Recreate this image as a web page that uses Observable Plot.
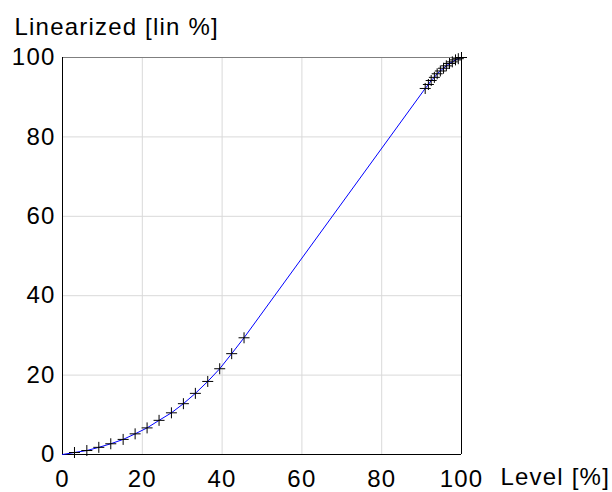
<!DOCTYPE html>
<html>
<head>
<meta charset="utf-8">
<script src="https://cdn.jsdelivr.net/npm/d3@7"></script>
<script src="https://cdn.jsdelivr.net/npm/@observablehq/plot@0.6"></script>
<style>
  html, body { margin: 0; padding: 0; background: #fff; }
</style>
</head>
<body>
<div id="chart"></div>
<script>
// Input level [%] and linearized output [lin %]
const levels = [0, 3.0, 6.1, 9.1, 12.1, 15.2, 18.2, 21.2, 24.2, 27.3, 30.3, 33.3, 36.4, 39.4, 42.4, 45.5,
  90.9, 91.7, 92.4, 93.2, 93.9, 94.7, 95.5, 96.2, 97.0, 97.7, 98.5, 99.2, 100];
const linearized = [0, 0.5, 1.0, 1.8, 2.7, 3.8, 5.2, 6.7, 8.6, 10.5, 12.8, 15.4, 18.4, 21.6, 25.4, 29.4,
  92.2, 93.2, 94.2, 95.0, 95.9, 96.6, 97.3, 97.9, 98.5, 98.9, 99.4, 99.7, 100];
const xTicks = [0, 20, 40, 60, 80, 100];
const yTicks = [0, 20, 40, 60, 80, 100];
const gridTicks = [20, 40, 60, 80];
const yTitle = "Linearized [lin %]";
const xTitle = "Level [%]";

const data = levels.map((x, i) => ({x, y: linearized[i], i}));
const markers = data.filter(d => d.i > 0);

const plusSymbol = {
  draw(context, size) {
    const r = Math.sqrt(size / Math.PI);
    context.moveTo(-r, 0); context.lineTo(r, 0);
    context.moveTo(0, -r); context.lineTo(0, r);
  }
};

const chart = Plot.plot({
  width: 612,
  height: 492,
  marginLeft: 62,
  marginRight: 151,
  marginTop: 57,
  marginBottom: 38,
  style: {fontFamily: "'Liberation Sans', Arial, sans-serif", fontSize: "24px", letterSpacing: "1.2px", color: "#000", background: "#fff", overflow: "visible"},
  x: {domain: [0, 100]},
  y: {domain: [0, 100]},
  marks: [
    Plot.gridX(gridTicks, {stroke: "#d9d9d9", strokeOpacity: 1}),
    Plot.gridY(gridTicks, {stroke: "#d9d9d9", strokeOpacity: 1}),
    Plot.ruleY([100], {stroke: "#7f7f7f"}),
    Plot.ruleX([100], {stroke: "#000"}),
    Plot.ruleX([0], {stroke: "#000"}),
    Plot.ruleY([0], {stroke: "#000"}),
    Plot.line(data, {x: "x", y: "y", stroke: "#0000ff", strokeWidth: 1}),
    Plot.dot(markers, {x: "x", y: "y", symbol: plusSymbol, r: 5.5, stroke: "#000", strokeWidth: 1, fill: "none"}),
    Plot.axisX(xTicks, {tickSize: 0, tickPadding: 15, label: null}),
    Plot.axisY(yTicks, {tickSize: 0, tickPadding: 7, label: null}),
    Plot.text([yTitle], {frameAnchor: "top-left", text: d => d, dx: -48, dy: -30, textAnchor: "start", lineAnchor: "middle", fill: "#000"}),
    Plot.text([xTitle], {frameAnchor: "bottom-right", text: d => d, dx: 39, dy: 23, textAnchor: "start", lineAnchor: "middle", fill: "#000"})
  ]
});
document.getElementById("chart").append(chart);
</script>
</body>
</html>
